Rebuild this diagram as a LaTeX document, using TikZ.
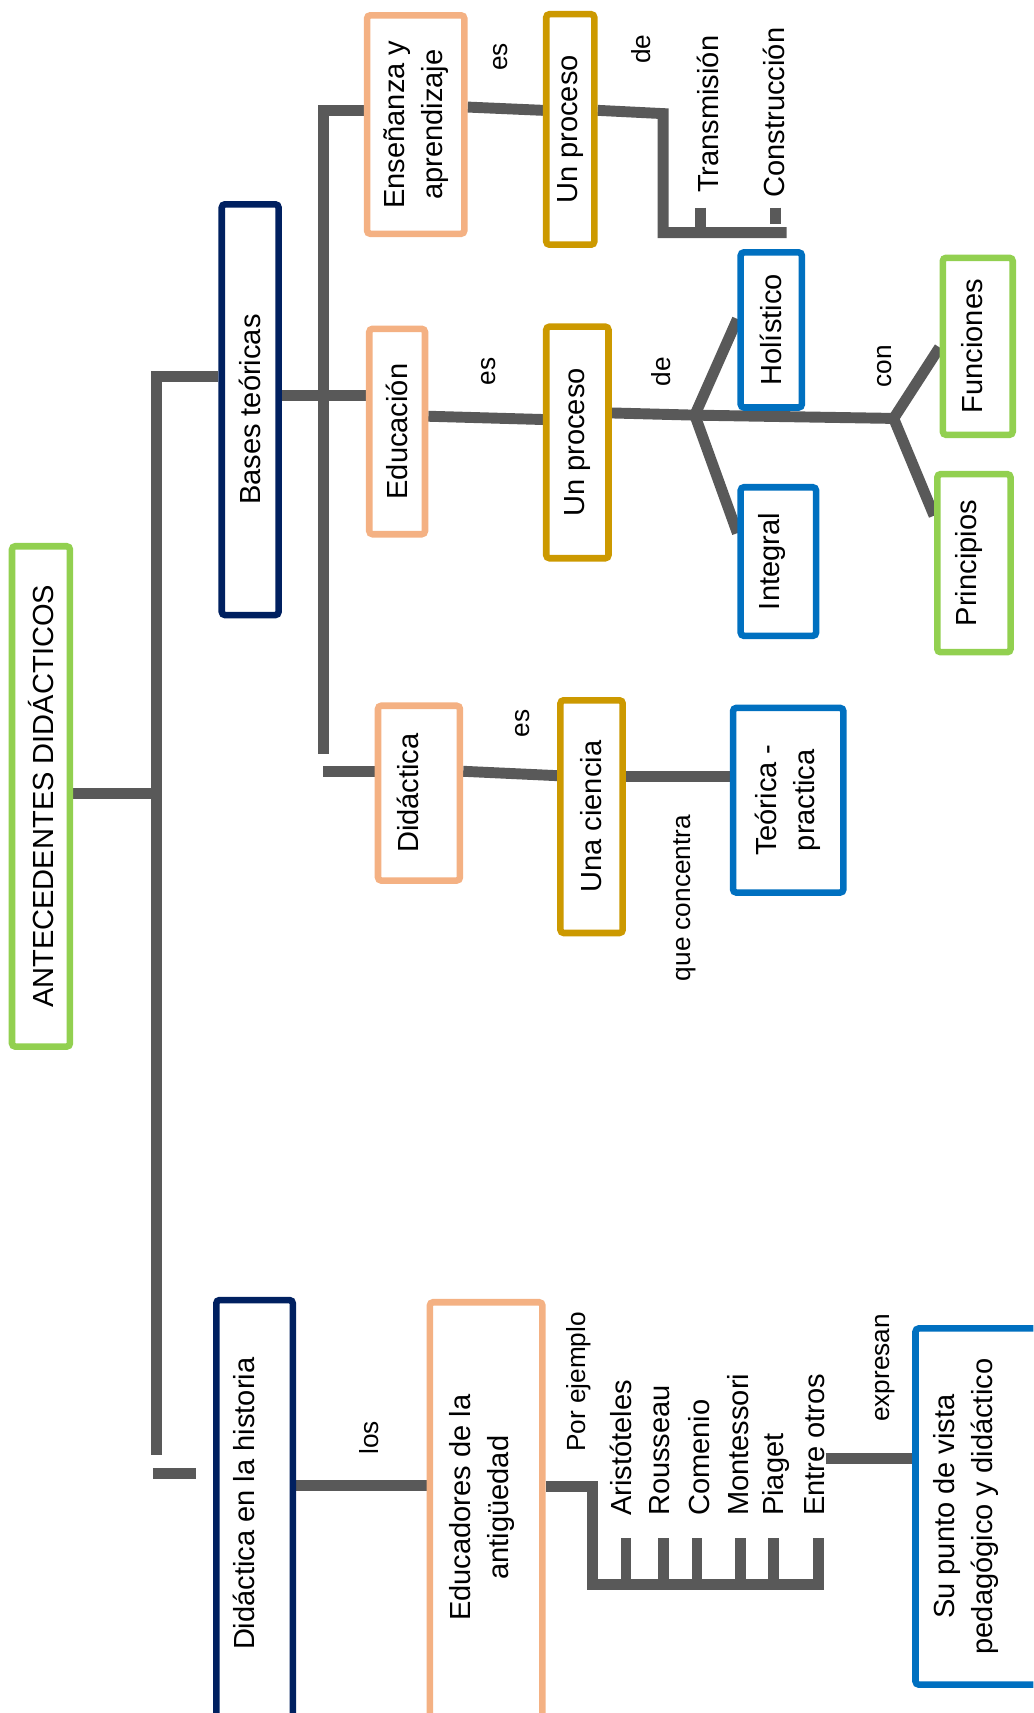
\documentclass[tikz,border=0pt]{standalone}
\usepackage{fontspec}
\setmainfont{Liberation Sans}
\usepackage{graphicx}
\usetikzlibrary{backgrounds}
\definecolor{cgreen}{HTML}{92D050}
\definecolor{cnavy}{HTML}{002060}
\definecolor{cpeach}{HTML}{F4B183}
\definecolor{cgold}{HTML}{CC9900}
\definecolor{cblue}{HTML}{0070C0}
\definecolor{cline}{HTML}{595959}
\newcommand\mainfs{\fontsize{13.3pt}{17.5pt}\selectfont}
\newcommand\lblfs{\fontsize{12pt}{14pt}\selectfont}
\newcommand\RT[3]{\raisebox{#2}{\rotatebox{90}{#3}}\hspace*{#1}}
\newcommand\TL[1]{\begin{tabular}{@{}c@{}}#1\end{tabular}}
\tikzset{
  box/.style={draw, line width=3pt, rounded corners=1.5pt, fill=white, inner sep=0pt, font=\mainfs},
  conn/.style={draw=cline, line width=5pt, line cap=butt, line join=miter},
  lbl/.style={rotate=90, font=\lblfs, inner sep=0pt},
  nm/.style={rotate=90, font=\mainfs, inner sep=0pt, anchor=west},
}
\begin{document}
\begin{tikzpicture}[x=0.5pt,y=-0.5pt]
\useasboundingbox (0,0) rectangle (946,1568);
\clip (0,0) rectangle (946,1568);
% boxes
\node[box, draw=cgreen, minimum width=26.5pt, minimum height=229pt] (root) at (37.5,729) {\RT{0pt}{0pt}{ANTECEDENTES DIDÁCTICOS}};
\node[box, draw=cnavy, minimum width=26pt, minimum height=188pt] (bases) at (229,375) {\RT{0pt}{0pt}{Bases teóricas}};
\node[box, draw=cnavy, minimum width=35pt, minimum height=195pt] (hist) at (233,1385) {\RT{9.5pt}{8.5pt}{Didáctica en la historia}};
\node[box, draw=cpeach, minimum width=44.5pt, minimum height=100pt] (ens) at (380.5,114) {\RT{0pt}{0pt}{\TL{Enseñanza y\\aprendizaje}}};
\node[box, draw=cpeach, minimum width=25.5pt, minimum height=94pt] (educ) at (363.5,395) {\RT{0pt}{0pt}{Educación}};
\node[box, draw=cpeach, minimum width=37.5pt, minimum height=80pt] (didac) at (383.5,726) {\RT{10pt}{0pt}{Didáctica}};
\node[box, draw=cgold, minimum width=22pt, minimum height=105.5pt] (proc1) at (522,118.5) {\RT{0pt}{0pt}{Un proceso}};
\node[box, draw=cgold, minimum width=28.5pt, minimum height=106pt] (proc2) at (528.5,405) {\RT{0pt}{0pt}{Un proceso}};
\node[box, draw=cgold, minimum width=28.5pt, minimum height=106.5pt] (ciencia) at (541.5,747.5) {\RT{0pt}{0pt}{Una ciencia}};
\node[box, draw=cblue, minimum width=50.5pt, minimum height=84.5pt] (teor) at (721.5,732.5) {\RT{0pt}{0pt}{\TL{Teórica -\\practica}}};
\node[box, draw=cblue, minimum width=28pt, minimum height=71pt] (holis) at (706,302) {\RT{0pt}{0pt}{Holístico}};
\node[box, draw=cblue, minimum width=34.5pt, minimum height=68pt] (integ) at (712.5,514) {\RT{6pt}{0pt}{Integral}};
\node[box, draw=cgreen, minimum width=32pt, minimum height=81pt] (func) at (895,317) {\RT{5pt}{0pt}{Funciones}};
\node[box, draw=cgreen, minimum width=33.5pt, minimum height=81.5pt] (princ) at (891.5,515.5) {\RT{5pt}{0pt}{Principios}};
\node[box, draw=cpeach, minimum width=51.5pt, minimum height=194pt] (educ2) at (445,1386) {\RT{4pt}{6pt}{\TL{Educadores de la\\antigüedad}}};
\node[box, draw=cblue, minimum width=61pt, minimum height=163pt] (punto) at (899,1379) {\RT{15pt}{0pt}{\TL{Su punto de vista\\pedagógico y didáctico}}};
% labels
\node[lbl] (es1) at (458,52) {es};
\node[lbl] (es2) at (447,340) {es};
\node[lbl] (es3) at (478,662) {es};
\node[lbl] (de1) at (587,45) {de};
\node[lbl] (de2) at (605,340) {de};
\node[lbl] (con) at (810,335) {con};
\node[lbl] (quec) at (627,822) {que concentra};
\node[lbl] (los) at (338,1316) {los};
\node[lbl] (porej) at (530,1265) {Por ejemplo};
\node[lbl] (expr) at (810,1252) {expresan};
% names
\node[nm] (trans) at (648,177) {Transmisión};
\node[nm] (cons) at (708,181) {Construcción};
\node[nm] (aris) at (568,1388) {Aristóteles};
\node[nm] (rous) at (604,1388) {Rousseau};
\node[nm] (come) at (640,1388) {Comenio};
\node[nm] (mont) at (676,1388) {Montessori};
\node[nm] (piag) at (710,1388) {Piaget};
\node[nm] (entre) at (746,1388) {Entre otros};
% junction coordinates
\coordinate (j1) at (143,726);
\coordinate (t1a) at (143,345);
\coordinate (t1b) at (143,1332);
\coordinate (s1a) at (140,1349);
\coordinate (s1b) at (179,1349);
\coordinate (t2m) at (296,362);
\coordinate (t2a) at (296,101);
\coordinate (t2b) at (296,690);
\coordinate (s2a) at (296,706);
\coordinate (k1) at (607,104);
\coordinate (k2) at (607,213);
\coordinate (k3) at (720,213);
\coordinate (tt) at (641,190);
\coordinate (ct1) at (710,190);
\coordinate (ct2) at (710,205);
\coordinate (b1) at (636,380);
\coordinate (b2) at (818,383);
\coordinate (m1) at (542,1361);
\coordinate (m2) at (542,1450);
\coordinate (m3) at (749,1450);
\coordinate (m4) at (749,1408);
\begin{pgfonlayer}{background}
\draw[conn] (root.east |- j1) -- (j1);
\draw[conn] (bases.west |- t1a) -- (t1a) -- (t1b);
\draw[conn] (s1a) -- (s1b);
\draw[conn] (bases.east |- t2m) -- (educ.west |- t2m);
\draw[conn] (ens.west |- t2a) -- (t2a) -- (t2b);
\draw[conn] (s2a) -- (didac.west |- s2a);
\draw[conn] (ens.east |- 0,98) -- (proc1.west |- 0,101);
\draw[conn] (proc1.east |- 0,101) -- (k1) -- (k2) -- (k3);
\draw[conn] (tt) -- (tt |- k2);
\draw[conn] (ct1) -- (ct2);
\draw[conn] (educ.east |- 0,381) -- (proc2.west |- 0,384);
\draw[conn] (proc2.east |- 0,378) -- (b1) -- (b2);
\draw[conn] (holis.west |- 0,292) -- (b1) -- (integ.west |- 0,488);
\draw[conn] (func.west |- 0,318) -- (b2) -- (princ.west |- 0,472);
\draw[conn] (didac.east |- 0,706) -- (ciencia.west |- 0,710);
\draw[conn] (ciencia.east |- 0,711) -- (teor.west |- 0,711);
\draw[conn] (hist.east |- 0,1360) -- (educ2.west |- 0,1360);
\draw[conn] (educ2.east |- m1) -- (m1) -- (m2) -- (m3) -- (m4);
\foreach \xx in {573,607,638,678,708} {\draw[conn] (\xx,1408) -- (\xx,1450);}
\draw[conn] (entre.south |- 0,1335) -- (punto.west |- 0,1335);
\end{pgfonlayer}
\end{tikzpicture}
\end{document}
